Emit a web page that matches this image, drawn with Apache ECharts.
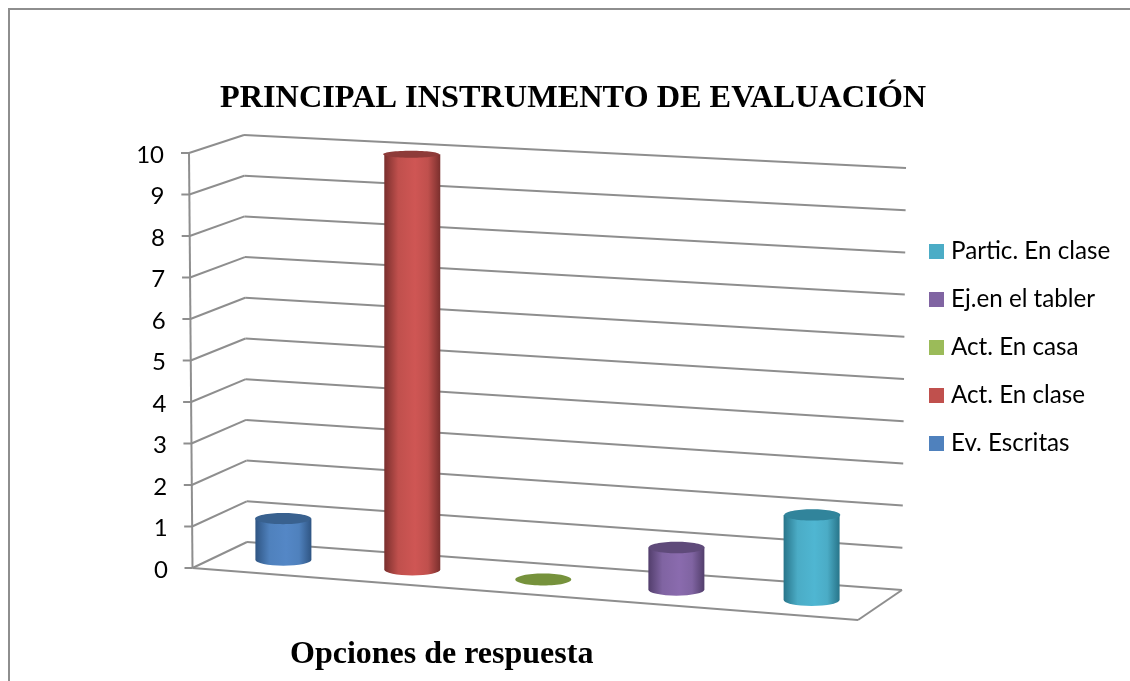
<!DOCTYPE html>
<html>
<head>
<meta charset="utf-8">
<style>html,body{margin:0;background:#fff}#chart{width:1130px;height:681px}</style>
<script src="https://cdn.jsdelivr.net/npm/echarts@6/dist/echarts.min.js"></script>
</head>
<body>
<div id="chart"></div>
<script>
// datos
const categories = ['Ev. Escritas', 'Act. En clase', 'Act. En casa', 'Ej.en el tabler', 'Partic. En clase'];
const values = [1, 10, 0, 1, 2];
const colors = ['#4F81BD', '#C0504D', '#9BBB59', '#8064A2', '#4BACC6'];
const topColors = ['#39618F', '#8E3B39', '#76923C', '#5F4A7A', '#31849B'];
const edgeColors = ['#2F5583', '#7A2F2D', '#76923C', '#523E6C', '#28758A'];
const midColors = ['#5487C6', '#CF5654', '#76923C', '#8A6BAE', '#4FB6D2'];
const yTicks = [0, 1, 2, 3, 4, 5, 6, 7, 8, 9, 10];

const yMax = 10;
const gridBox = { left: 192, top: 153, width: 666, height: 415 };

// esquinas de la caja 3D: [x, y] con valor 0 y con valor maximo
const cornerFL = [[192.5, 568], [189, 153]];
const cornerFR = [[858, 620], [862, 190]];
const cornerBL = [[247, 542], [244, 135]];
const cornerBR = [[902, 590], [906, 168]];
const BAR_DEPTH = 0.5;
const BAR_RX = 28;

function lerp(a, b, t) { return a + (b - a) * t; }
function lerpPt(p, t) { return [lerp(p[0][0], p[1][0], t), lerp(p[0][1], p[1][1], t)]; }

// pasa un punto plano del grid a la caja inclinada
// shift: desplazamiento en anchos de banda desde el centro de la categoria
function project(api, cat, v, depth, shift) {
    const flat = api.coord([cat, v]);
    const band = api.size([1, 0])[0];
    let u = (flat[0] + (shift || 0) * band - gridBox.left) / gridBox.width;
    const t = (gridBox.top + gridBox.height - flat[1]) / gridBox.height;
    u = u - 0.04 * u * (1 - u);
    const fl = lerpPt(cornerFL, t), fr = lerpPt(cornerFR, t);
    const bl = lerpPt(cornerBL, t), br = lerpPt(cornerBR, t);
    const fx = lerp(fl[0], fr[0], u), fy = lerp(fl[1], fr[1], u);
    const bx = lerp(bl[0], br[0], u), by = lerp(bl[1], br[1], u);
    return [lerp(fx, bx, depth), lerp(fy, by, depth)];
}

function line(p1, p2) {
    return {
        type: 'line',
        shape: { x1: p1[0], y1: p1[1], x2: p2[0], y2: p2[1] },
        style: { stroke: '#8E8E8E', lineWidth: 2, fill: null }
    };
}

// pared de fondo, pared izquierda, piso y marcas del eje
function renderWalls(params, api) {
    const v = api.value(0);
    const lastCat = categories.length - 1;
    const children = [];
    const fl = project(api, 0, v, 0, -0.5);
    const bl = project(api, 0, v, 1, -0.5);
    const br = project(api, lastCat, v, 1, 0.5);
    children.push(line(fl, bl), line(bl, br));
    children.push(line([fl[0] - 8, fl[1]], fl));
    if (v === 0) {
        const fr = project(api, lastCat, 0, 0, 0.5);
        children.push(line(fl, fr), line(fr, br));
        children.push(line(fl, project(api, 0, yMax, 0, -0.5)));
    }
    return { type: 'group', children };
}

function ry(y) { return lerp(3.5, 6, (y - 153) / 427); }

function renderCylinder(params, api) {
    const i = api.value(0);
    const v = api.value(1);
    const base = project(api, i, 0, BAR_DEPTH);
    const top = project(api, i, v, BAR_DEPTH);
    const topEllipse = {
        type: 'ellipse',
        shape: { cx: top[0], cy: top[1], rx: BAR_RX, ry: ry(top[1]) },
        style: { fill: topColors[i] }
    };
    if (v === 0) return { type: 'group', children: [topEllipse] };
    const rb = ry(base[1]);
    const x0 = base[0] - BAR_RX, x1 = base[0] + BAR_RX;
    const body = {
        type: 'path',
        shape: {
            pathData: `M${x0} ${top[1]} L${x0} ${base[1]} A${BAR_RX} ${rb} 0 0 0 ${x1} ${base[1]} L${x1} ${top[1]} Z`
        },
        style: {
            fill: new echarts.graphic.LinearGradient(0, 0, 1, 0, [
                { offset: 0, color: edgeColors[i] },
                { offset: 0.25, color: colors[i] },
                { offset: 0.55, color: midColors[i] },
                { offset: 0.78, color: colors[i] },
                { offset: 1, color: edgeColors[i] }
            ])
        }
    };
    return { type: 'group', children: [body, topEllipse] };
}

const labelRich = {};
yTicks.forEach(t => { labelRich['t' + t] = { padding: [4, t * 0.4, 0, 0] }; });

const chart = echarts.init(document.getElementById('chart'));
const option = {
    animation: false,
    backgroundColor: '#fff',
    graphic: [
        {
            type: 'rect',
            silent: true,
            shape: { x: 9, y: 9, width: 1200, height: 750 },
            style: { fill: null, stroke: '#8E8E8E', lineWidth: 2 }
        }
    ],
    title: [
        {
            text: 'PRINCIPAL INSTRUMENTO DE EVALUACIÓN',
            left: 215, top: 78,
            textStyle: { fontFamily: 'Liberation Serif', fontWeight: 'bold', fontSize: 32.3, color: '#000' }
        },
        {
            text: 'Opciones de respuesta',
            left: 285, top: 634,
            textStyle: { fontFamily: 'Liberation Serif', fontWeight: 'bold', fontSize: 32, color: '#000' }
        }
    ],
    legend: {
        orient: 'vertical',
        left: 924, top: 234.5,
        itemWidth: 15, itemHeight: 15, itemGap: 24, icon: 'rect',
        data: categories.slice().reverse(),
        textStyle: { fontFamily: 'Lato', fontSize: 24.2, color: '#000', padding: [0, 0, 0, 2] }
    },
    grid: gridBox,
    xAxis: {
        type: 'category',
        data: categories,
        axisLine: { show: false },
        axisTick: { show: false },
        axisLabel: { show: false }
    },
    yAxis: {
        type: 'value',
        min: 0, max: yMax, interval: 1,
        splitLine: { show: false },
        axisLine: { show: false },
        axisTick: { show: false },
        axisLabel: {
            margin: 24,
            fontFamily: 'Lato', fontSize: 24, color: '#000',
            formatter: v => `{t${v}|${v}}`,
            rich: labelRich
        }
    },
    series: [
        {
            type: 'custom',
            name: 'paredes',
            silent: true,
            coordinateSystem: 'cartesian2d',
            encode: { y: 0 },
            data: yTicks.map(t => [t]),
            renderItem: renderWalls,
            z: 1
        }
    ].concat(categories.map((name, i) => ({
        type: 'custom',
        name: name,
        coordinateSystem: 'cartesian2d',
        itemStyle: { color: colors[i] },
        encode: { x: 0, y: 1 },
        data: [[i, values[i]]],
        renderItem: renderCylinder,
        z: 2
    })))
};
chart.setOption(option);
</script>
</body>
</html>
